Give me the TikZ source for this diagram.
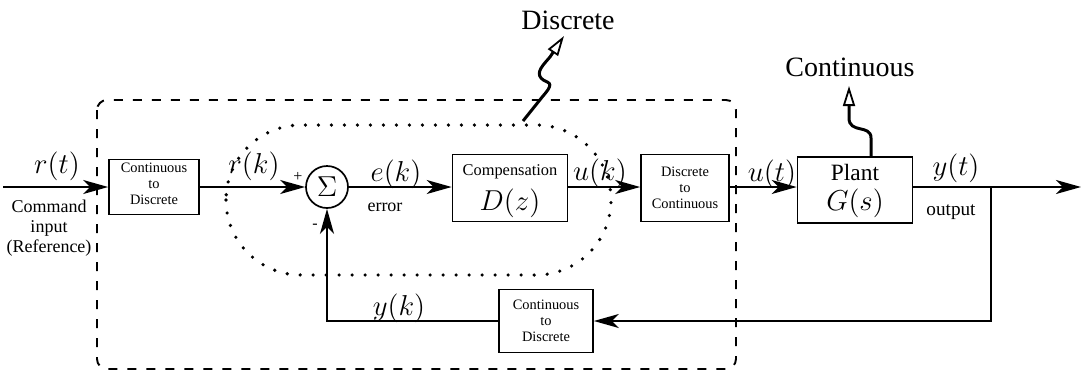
\documentclass[tikz,border=0pt]{standalone}
\usepackage{fontspec}
\setmainfont{Liberation Serif}
\usetikzlibrary{arrows.meta}
\begin{document}
\begin{tikzpicture}[x=0.5pt,y=-0.5pt,line width=0.95pt,
  blk/.style={draw, line width=0.85pt, inner sep=0pt, align=center},
  sig/.style={-{Stealth[length=12.5pt,width=7pt,inset=3.5pt]}},
  snake/.style={line width=1.5pt, -{Triangle[open,length=10pt,width=6pt,line width=0.9pt]}},
  txt/.style={inner sep=0pt, align=center},
  mth/.style={inner sep=0pt, font=\Large},
  small/.style={txt, font=\fontsize{7.2}{8}\selectfont},
  big/.style={txt, font=\fontsize{14}{16}\selectfont}]
\useasboundingbox (0,0) rectangle (1082,371);

% sampled-data boundary and discrete-time region
\draw[line width=0.95pt, dash pattern=on 4.5pt off 5pt, rounded corners=5pt]
  (97,100) rectangle (736,369);
\draw[line width=1.8pt, dash pattern=on 0pt off 6.5pt, line cap=round, rounded corners=37.5pt]
  (226,125) rectangle (611,275);

% blocks
\node[blk, minimum width=45pt, minimum height=27.5pt] (cd1) at (154,187) {};
\node[small] (cd1t) at (154,184) {Continuous\\to\\Discrete};
\node[circle, draw, line width=0.85pt, minimum size=21pt, inner sep=0pt, font=\Large] (sum) at (327,187) {$\Sigma$};
\node[blk, minimum width=57.5pt, minimum height=33.5pt] (comp) at (510,188) {};
\node[txt, font=\fontsize{8.2}{9}\selectfont] (compt) at (510,172) {Compensation};
\node[mth] (dz) at (510,203) {$D(z)$};
\node[blk, minimum width=44pt, minimum height=33.5pt] (dc) at (685,188) {};
\node[small] (dct) at (685,188) {Discrete\\to\\Continuous};
\node[blk, minimum width=57.5pt, minimum height=33pt] (plant) at (855,190) {};
\node[txt, font=\fontsize{11.7}{13}\selectfont] (plantt) at (855,172) {Plant};
\node[mth] (gs) at (855,203) {$G(s)$};
\node[blk, minimum width=47pt, minimum height=31.5pt] (cd2) at (546,321) {};
\node[small] (cd2t) at (546,321) {Continuous\\to\\Discrete};

% signal path
\coordinate (in) at (3,187);
\coordinate (out) at (1081,187);
\coordinate (br) at (991,187);
\draw[sig] (in) -- (cd1);
\draw[sig] (cd1) -- (sum);
\draw[sig] (sum) -- (sum -| comp.west);
\draw[sig] (comp.east |- sum) -- (sum -| dc.west);
\draw[sig] (dc.east |- sum) -- (sum -| plant.west);
\draw[sig] (plant.east |- sum) -- (out);
\draw[sig] (br) |- (cd2.east);
\draw[sig] (cd2.west) -| (sum.south);

% signal labels
\node[mth] (rt) at (57,166) {$r(t)$};
\node[txt, font=\fontsize{9}{10}\selectfont] (cmd) at (49,228) {Command\\input\\(Reference)};
\node[mth] (rk) at (254,166) {$r(k)$};
\node[txt, font=\fontsize{8}{9}\selectfont] (plus) at (298,177) {+};
\node[txt, font=\fontsize{8}{9}\selectfont] (minus) at (315,226) {-};
\node[mth] (ek) at (396,174) {$e(k)$};
\node[txt, font=\fontsize{9}{10}\selectfont] (err) at (385,207) {error};
\node[mth] (uk) at (600,173) {$u(k)$};
\node[mth] (ut) at (772,174) {$u(t)$};
\node[mth] (yt) at (956,168) {$y(t)$};
\node[txt, font=\fontsize{9.6}{11}\selectfont] (outl) at (951,212) {output};
\node[mth] (yk) at (399,308) {$y(k)$};

% domain annotations
\node[big] (disc) at (568,20) {Discrete};
\node[big] (cont) at (850,67) {Continuous};
\draw[snake] (523,121) -- (543,96) .. controls (557,80) and (546,84) .. (541,78)
  .. controls (536,72) and (543,65) .. (550,57) -- (564,36);
\draw[snake] (plant.north -| 871,0) -- (871,138) .. controls (871,124) and (849,134) .. (849,118) -- (849,86);
\end{tikzpicture}
\end{document}
